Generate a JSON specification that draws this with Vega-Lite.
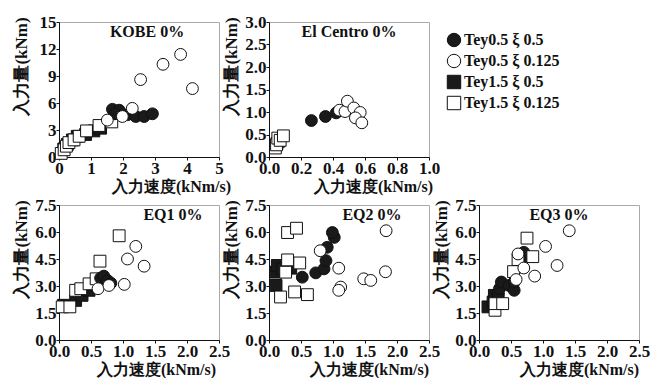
{
 "$schema": "https://vega.github.io/schema/vega-lite/v6.json",
 "background": "white",
 "padding": {"left": 11, "top": 12, "right": 0, "bottom": 0},
 "datasets": {
  "kobe": [
   {"s":"Tey1.5 ξ 0.5","x":0.15,"y":0.9},{"s":"Tey1.5 ξ 0.5","x":0.26,"y":1.4},{"s":"Tey1.5 ξ 0.5","x":0.42,"y":1.9},{"s":"Tey1.5 ξ 0.5","x":0.57,"y":2.3},{"s":"Tey1.5 ξ 0.5","x":0.83,"y":2.5},{"s":"Tey1.5 ξ 0.5","x":1.09,"y":2.9},{"s":"Tey1.5 ξ 0.5","x":1.3,"y":3.2},
   {"s":"Tey1.5 ξ 0.125","x":0.07,"y":0.4},{"s":"Tey1.5 ξ 0.125","x":0.16,"y":0.8},{"s":"Tey1.5 ξ 0.125","x":0.23,"y":1.2},{"s":"Tey1.5 ξ 0.125","x":0.31,"y":1.6},{"s":"Tey1.5 ξ 0.125","x":0.47,"y":1.9},{"s":"Tey1.5 ξ 0.125","x":0.63,"y":2.3},{"s":"Tey1.5 ξ 0.125","x":0.86,"y":2.9},{"s":"Tey1.5 ξ 0.125","x":1.25,"y":3.5},{"s":"Tey1.5 ξ 0.125","x":1.65,"y":3.9},
   {"s":"Tey0.5 ξ 0.5","x":1.67,"y":5.3},{"s":"Tey0.5 ξ 0.5","x":1.88,"y":5.2},{"s":"Tey0.5 ξ 0.5","x":2.14,"y":4.7},{"s":"Tey0.5 ξ 0.5","x":2.4,"y":4.5},{"s":"Tey0.5 ξ 0.5","x":2.66,"y":4.5},{"s":"Tey0.5 ξ 0.5","x":2.92,"y":4.8},{"s":"Tey0.5 ξ 0.5","x":1.75,"y":4.8},
   {"s":"Tey0.5 ξ 0.125","x":1.51,"y":4.1},{"s":"Tey0.5 ξ 0.125","x":1.98,"y":4.5},{"s":"Tey0.5 ξ 0.125","x":2.29,"y":5.4},{"s":"Tey0.5 ξ 0.125","x":2.55,"y":8.6},{"s":"Tey0.5 ξ 0.125","x":3.25,"y":10.3},{"s":"Tey0.5 ξ 0.125","x":3.8,"y":11.4},{"s":"Tey0.5 ξ 0.125","x":4.17,"y":7.6}
  ],
  "elcentro": [
   {"s":"Tey1.5 ξ 0.5","x":0.05,"y":0.3},{"s":"Tey1.5 ξ 0.5","x":0.06,"y":0.35},
   {"s":"Tey1.5 ξ 0.125","x":0.04,"y":0.2},{"s":"Tey1.5 ξ 0.125","x":0.047,"y":0.27},{"s":"Tey1.5 ξ 0.125","x":0.055,"y":0.42},{"s":"Tey1.5 ξ 0.125","x":0.07,"y":0.37},{"s":"Tey1.5 ξ 0.125","x":0.09,"y":0.47},
   {"s":"Tey0.5 ξ 0.5","x":0.265,"y":0.81},{"s":"Tey0.5 ξ 0.5","x":0.353,"y":0.9},{"s":"Tey0.5 ξ 0.5","x":0.42,"y":0.98},
   {"s":"Tey0.5 ξ 0.125","x":0.44,"y":1.04},{"s":"Tey0.5 ξ 0.125","x":0.475,"y":1.01},{"s":"Tey0.5 ξ 0.125","x":0.49,"y":1.24},{"s":"Tey0.5 ξ 0.125","x":0.53,"y":1.09},{"s":"Tey0.5 ξ 0.125","x":0.57,"y":0.99},{"s":"Tey0.5 ξ 0.125","x":0.54,"y":0.87},{"s":"Tey0.5 ξ 0.125","x":0.58,"y":0.76}
  ],
  "eq1": [
   {"s":"Tey1.5 ξ 0.5","x":0.07,"y":1.93},{"s":"Tey1.5 ξ 0.5","x":0.26,"y":2.2},{"s":"Tey1.5 ξ 0.5","x":0.36,"y":2.48},{"s":"Tey1.5 ξ 0.5","x":0.47,"y":2.76},{"s":"Tey1.5 ξ 0.5","x":0.57,"y":3.03},{"s":"Tey1.5 ξ 0.5","x":0.65,"y":3.3},
   {"s":"Tey1.5 ξ 0.125","x":0.05,"y":1.84},{"s":"Tey1.5 ξ 0.125","x":0.17,"y":1.84},{"s":"Tey1.5 ξ 0.125","x":0.26,"y":2.76},{"s":"Tey1.5 ξ 0.125","x":0.34,"y":2.85},{"s":"Tey1.5 ξ 0.125","x":0.47,"y":3.12},{"s":"Tey1.5 ξ 0.125","x":0.58,"y":3.4},{"s":"Tey1.5 ξ 0.125","x":0.64,"y":4.38},{"s":"Tey1.5 ξ 0.125","x":0.94,"y":5.79},
   {"s":"Tey0.5 ξ 0.5","x":0.65,"y":3.44},{"s":"Tey0.5 ξ 0.5","x":0.7,"y":3.55},{"s":"Tey0.5 ξ 0.5","x":0.76,"y":3.3},{"s":"Tey0.5 ξ 0.5","x":0.81,"y":3.16},
   {"s":"Tey0.5 ξ 0.125","x":0.61,"y":2.85},{"s":"Tey0.5 ξ 0.125","x":0.78,"y":3.03},{"s":"Tey0.5 ξ 0.125","x":1.02,"y":3.09},{"s":"Tey0.5 ξ 0.125","x":1.07,"y":4.5},{"s":"Tey0.5 ξ 0.125","x":1.2,"y":5.2},{"s":"Tey0.5 ξ 0.125","x":1.33,"y":4.1}
  ],
  "eq2": [
   {"s":"Tey1.5 ξ 0.5","x":0.11,"y":3.03},{"s":"Tey1.5 ξ 0.5","x":0.11,"y":3.77},{"s":"Tey1.5 ξ 0.5","x":0.13,"y":4.14},{"s":"Tey1.5 ξ 0.5","x":0.21,"y":3.95},{"s":"Tey1.5 ξ 0.5","x":0.34,"y":3.99},
   {"s":"Tey1.5 ξ 0.125","x":0.18,"y":2.39},{"s":"Tey1.5 ξ 0.125","x":0.4,"y":2.67},{"s":"Tey1.5 ξ 0.125","x":0.6,"y":2.52},{"s":"Tey1.5 ξ 0.125","x":0.26,"y":3.77},{"s":"Tey1.5 ξ 0.125","x":0.29,"y":4.45},{"s":"Tey1.5 ξ 0.125","x":0.48,"y":4.28},{"s":"Tey1.5 ξ 0.125","x":0.29,"y":5.97},{"s":"Tey1.5 ξ 0.125","x":0.43,"y":6.21},
   {"s":"Tey0.5 ξ 0.5","x":0.52,"y":3.49},{"s":"Tey0.5 ξ 0.5","x":0.73,"y":3.73},{"s":"Tey0.5 ξ 0.5","x":0.86,"y":3.95},{"s":"Tey0.5 ξ 0.5","x":0.89,"y":4.41},{"s":"Tey0.5 ξ 0.5","x":0.91,"y":5.15},{"s":"Tey0.5 ξ 0.5","x":1.02,"y":5.7},{"s":"Tey0.5 ξ 0.5","x":0.99,"y":5.97},
   {"s":"Tey0.5 ξ 0.125","x":0.8,"y":4.96},{"s":"Tey0.5 ξ 0.125","x":1.09,"y":3.99},{"s":"Tey0.5 ξ 0.125","x":1.12,"y":2.94},{"s":"Tey0.5 ξ 0.125","x":1.09,"y":2.76},{"s":"Tey0.5 ξ 0.125","x":1.48,"y":3.4},{"s":"Tey0.5 ξ 0.125","x":1.59,"y":3.31},{"s":"Tey0.5 ξ 0.125","x":1.82,"y":3.79},{"s":"Tey0.5 ξ 0.125","x":1.83,"y":6.07}
  ],
  "eq3": [
   {"s":"Tey1.5 ξ 0.5","x":0.14,"y":1.84},{"s":"Tey1.5 ξ 0.5","x":0.22,"y":2.11},{"s":"Tey1.5 ξ 0.5","x":0.24,"y":2.48},{"s":"Tey1.5 ξ 0.5","x":0.3,"y":2.3},
   {"s":"Tey0.5 ξ 0.5","x":0.3,"y":2.57},{"s":"Tey0.5 ξ 0.5","x":0.32,"y":2.85},{"s":"Tey0.5 ξ 0.5","x":0.35,"y":3.22},{"s":"Tey0.5 ξ 0.5","x":0.47,"y":3.03},{"s":"Tey0.5 ξ 0.5","x":0.55,"y":2.76},{"s":"Tey0.5 ξ 0.5","x":0.55,"y":3.22},{"s":"Tey0.5 ξ 0.5","x":0.63,"y":4.04},{"s":"Tey0.5 ξ 0.5","x":0.68,"y":4.41},{"s":"Tey0.5 ξ 0.5","x":0.7,"y":4.87},
   {"s":"Tey1.5 ξ 0.125","x":0.25,"y":1.65},{"s":"Tey1.5 ξ 0.125","x":0.25,"y":2.02},{"s":"Tey1.5 ξ 0.125","x":0.37,"y":2.02},{"s":"Tey1.5 ξ 0.125","x":0.54,"y":3.8},{"s":"Tey1.5 ξ 0.125","x":0.61,"y":4.47},{"s":"Tey1.5 ξ 0.125","x":0.84,"y":4.63},{"s":"Tey1.5 ξ 0.125","x":0.75,"y":5.66},
   {"s":"Tey0.5 ξ 0.125","x":0.58,"y":3.36},{"s":"Tey0.5 ξ 0.125","x":0.61,"y":4.78},{"s":"Tey0.5 ξ 0.125","x":0.7,"y":4.0},{"s":"Tey0.5 ξ 0.125","x":0.87,"y":3.55},{"s":"Tey0.5 ξ 0.125","x":1.22,"y":4.14},{"s":"Tey0.5 ξ 0.125","x":1.04,"y":5.2},{"s":"Tey0.5 ξ 0.125","x":1.41,"y":6.07}
  ]
 },
 "config": {
  "font": "Liberation Serif",
  "view": {"stroke": "#aaa"},
  "axis": {"grid": false, "domainColor": "#111", "tickColor": "#111", "labelFont": "Liberation Serif", "labelFontSize": 17, "labelFontWeight": "bold", "labelColor": "#111", "labelFlush": false, "labelOverlap": false, "tickSize": 3, "labelPadding": 0, "titleFont": "Liberation Serif", "titleFontWeight": "bold", "titleFontSize": 16, "titleColor": "#111"},
  "axisX": {"titleY": 29, "titleAlign": "center", "titleBaseline": "middle"},
  "axisY": {"titleX": -38, "titleY": 44, "titleAngle": -90, "titleAlign": "center", "titleBaseline": "middle", "titleFontSize": 17},
  "title": {"font": "Liberation Serif", "fontSize": 16, "fontWeight": "bold", "color": "#111", "anchor": "middle", "frame": "group", "baseline": "alphabetic", "offset": -27},
  "legend": {"orient": "none", "legendX": 387, "legendY": 10, "labelFont": "Liberation Serif", "labelFontSize": 16, "labelFontWeight": "bold", "labelColor": "#111", "symbolSize": 180, "symbolStrokeWidth": 1, "rowPadding": 3, "labelOffset": 2, "labelLimit": 300}
 },
 "spacing": 0,
 "vconcat": [
  {
   "bounds": "flush",
   "spacing": 50,
   "hconcat": [
    {
     "width": 160, "height": 135,
     "title": {"text": "KOBE 0%", "dx": 8},
     "data": {"name": "kobe"},
     "mark": {"type": "point", "filled": true, "size": 140, "strokeWidth": 1, "opacity": 1},
     "encoding": {
      "x": {"field": "x", "type": "quantitative", "scale": {"domain": [0, 5], "nice": false, "zero": false}, "axis": {"values": [0,1,2,3,4,5], "format": "d", "title": "入力速度(kNm/s)", "titleX": 112}},
      "y": {"field": "y", "type": "quantitative", "scale": {"domain": [0, 15], "nice": false, "zero": false}, "axis": {"values": [0,3,6,9,12,15], "format": "d", "title": "入力量(kNm)"}},
      "shape": {"field": "s", "type": "nominal", "scale": {"domain": ["Tey0.5 ξ 0.5","Tey0.5 ξ 0.125","Tey1.5 ξ 0.5","Tey1.5 ξ 0.125"], "range": ["circle","circle","square","square"]}, "legend": {"title": null}},
      "fill": {"field": "s", "type": "nominal", "scale": {"domain": ["Tey0.5 ξ 0.5","Tey0.5 ξ 0.125","Tey1.5 ξ 0.5","Tey1.5 ξ 0.125"], "range": ["#1a1a1a","white","#1a1a1a","white"]}, "legend": {"title": null}},
      "stroke": {"field": "s", "type": "nominal", "scale": {"domain": ["Tey0.5 ξ 0.5","Tey0.5 ξ 0.125","Tey1.5 ξ 0.5","Tey1.5 ξ 0.125"], "range": ["#111","#111","#111","#111"]}, "legend": {"title": null}}
     }
    },
    {
     "width": 160, "height": 135,
     "title": {"text": "El Centro 0%", "dx": 0},
     "data": {"name": "elcentro"},
     "mark": {"type": "point", "filled": true, "size": 140, "strokeWidth": 1, "opacity": 1},
     "encoding": {
      "x": {"field": "x", "type": "quantitative", "scale": {"domain": [0, 1], "nice": false, "zero": false}, "axis": {"values": [0,0.2,0.4,0.6,0.8,1.0], "format": ".1f", "title": "入力速度(kNm/s)", "titleX": 104}},
      "y": {"field": "y", "type": "quantitative", "scale": {"domain": [0, 3], "nice": false, "zero": false}, "axis": {"values": [0,0.5,1,1.5,2,2.5,3], "format": ".1f", "title": "入力量(kNm)"}},
      "shape": {"field": "s", "type": "nominal", "scale": {"domain": ["Tey0.5 ξ 0.5","Tey0.5 ξ 0.125","Tey1.5 ξ 0.5","Tey1.5 ξ 0.125"], "range": ["circle","circle","square","square"]}, "legend": {"title": null}},
      "fill": {"field": "s", "type": "nominal", "scale": {"domain": ["Tey0.5 ξ 0.5","Tey0.5 ξ 0.125","Tey1.5 ξ 0.5","Tey1.5 ξ 0.125"], "range": ["#1a1a1a","white","#1a1a1a","white"]}, "legend": {"title": null}},
      "stroke": {"field": "s", "type": "nominal", "scale": {"domain": ["Tey0.5 ξ 0.5","Tey0.5 ξ 0.125","Tey1.5 ξ 0.5","Tey1.5 ξ 0.125"], "range": ["#111","#111","#111","#111"]}, "legend": {"title": null}}
     }
    }
   ],
   "resolve": {"scale": {"x": "independent", "y": "independent"}}
  },
  {
   "bounds": "flush",
   "spacing": 50,
   "hconcat": [
    {
     "width": 160, "height": 135,
     "title": {"text": "EQ1 0%", "dx": 34},
     "data": {"name": "eq1"},
     "mark": {"type": "point", "filled": true, "size": 140, "strokeWidth": 1, "opacity": 1},
     "encoding": {
      "x": {"field": "x", "type": "quantitative", "scale": {"domain": [0, 2.5], "nice": false, "zero": false}, "axis": {"values": [0,0.5,1,1.5,2,2.5], "format": ".1f", "title": "入力速度(kNm/s)", "titleX": 97}},
      "y": {"field": "y", "type": "quantitative", "scale": {"domain": [0, 7.5], "nice": false, "zero": false}, "axis": {"values": [0,1.5,3,4.5,6,7.5], "format": ".1f", "title": "入力量(kNm)"}},
      "shape": {"field": "s", "type": "nominal", "scale": {"domain": ["Tey0.5 ξ 0.5","Tey0.5 ξ 0.125","Tey1.5 ξ 0.5","Tey1.5 ξ 0.125"], "range": ["circle","circle","square","square"]}, "legend": {"title": null}},
      "fill": {"field": "s", "type": "nominal", "scale": {"domain": ["Tey0.5 ξ 0.5","Tey0.5 ξ 0.125","Tey1.5 ξ 0.5","Tey1.5 ξ 0.125"], "range": ["#1a1a1a","white","#1a1a1a","white"]}, "legend": {"title": null}},
      "stroke": {"field": "s", "type": "nominal", "scale": {"domain": ["Tey0.5 ξ 0.5","Tey0.5 ξ 0.125","Tey1.5 ξ 0.5","Tey1.5 ξ 0.125"], "range": ["#111","#111","#111","#111"]}, "legend": {"title": null}}
     }
    },
    {
     "width": 160, "height": 135,
     "title": {"text": "EQ2 0%", "dx": 23},
     "data": {"name": "eq2"},
     "mark": {"type": "point", "filled": true, "size": 140, "strokeWidth": 1, "opacity": 1},
     "encoding": {
      "x": {"field": "x", "type": "quantitative", "scale": {"domain": [0, 2.5], "nice": false, "zero": false}, "axis": {"values": [0,0.5,1,1.5,2,2.5], "format": ".1f", "title": "入力速度(kNm/s)", "titleX": 100}},
      "y": {"field": "y", "type": "quantitative", "scale": {"domain": [0, 7.5], "nice": false, "zero": false}, "axis": {"values": [0,1.5,3,4.5,6,7.5], "format": ".1f", "title": "入力量(kNm)"}},
      "shape": {"field": "s", "type": "nominal", "scale": {"domain": ["Tey0.5 ξ 0.5","Tey0.5 ξ 0.125","Tey1.5 ξ 0.5","Tey1.5 ξ 0.125"], "range": ["circle","circle","square","square"]}, "legend": {"title": null}},
      "fill": {"field": "s", "type": "nominal", "scale": {"domain": ["Tey0.5 ξ 0.5","Tey0.5 ξ 0.125","Tey1.5 ξ 0.5","Tey1.5 ξ 0.125"], "range": ["#1a1a1a","white","#1a1a1a","white"]}, "legend": {"title": null}},
      "stroke": {"field": "s", "type": "nominal", "scale": {"domain": ["Tey0.5 ξ 0.5","Tey0.5 ξ 0.125","Tey1.5 ξ 0.5","Tey1.5 ξ 0.125"], "range": ["#111","#111","#111","#111"]}, "legend": {"title": null}}
     }
    },
    {
     "width": 160, "height": 135,
     "title": {"text": "EQ3 0%", "dx": 0},
     "data": {"name": "eq3"},
     "mark": {"type": "point", "filled": true, "size": 140, "strokeWidth": 1, "opacity": 1},
     "encoding": {
      "x": {"field": "x", "type": "quantitative", "scale": {"domain": [0, 2.5], "nice": false, "zero": false}, "axis": {"values": [0,0.5,1,1.5,2,2.5], "format": ".1f", "title": "入力速度(kNm/s)", "titleX": 100}},
      "y": {"field": "y", "type": "quantitative", "scale": {"domain": [0, 7.5], "nice": false, "zero": false}, "axis": {"values": [0,1.5,3,4.5,6,7.5], "format": ".1f", "title": "入力量(kNm)"}},
      "shape": {"field": "s", "type": "nominal", "scale": {"domain": ["Tey0.5 ξ 0.5","Tey0.5 ξ 0.125","Tey1.5 ξ 0.5","Tey1.5 ξ 0.125"], "range": ["circle","circle","square","square"]}, "legend": {"title": null}},
      "fill": {"field": "s", "type": "nominal", "scale": {"domain": ["Tey0.5 ξ 0.5","Tey0.5 ξ 0.125","Tey1.5 ξ 0.5","Tey1.5 ξ 0.125"], "range": ["#1a1a1a","white","#1a1a1a","white"]}, "legend": {"title": null}},
      "stroke": {"field": "s", "type": "nominal", "scale": {"domain": ["Tey0.5 ξ 0.5","Tey0.5 ξ 0.125","Tey1.5 ξ 0.5","Tey1.5 ξ 0.125"], "range": ["#111","#111","#111","#111"]}, "legend": {"title": null}}
     }
    }
   ],
   "resolve": {"scale": {"x": "independent", "y": "independent"}}
  }
 ]
}
